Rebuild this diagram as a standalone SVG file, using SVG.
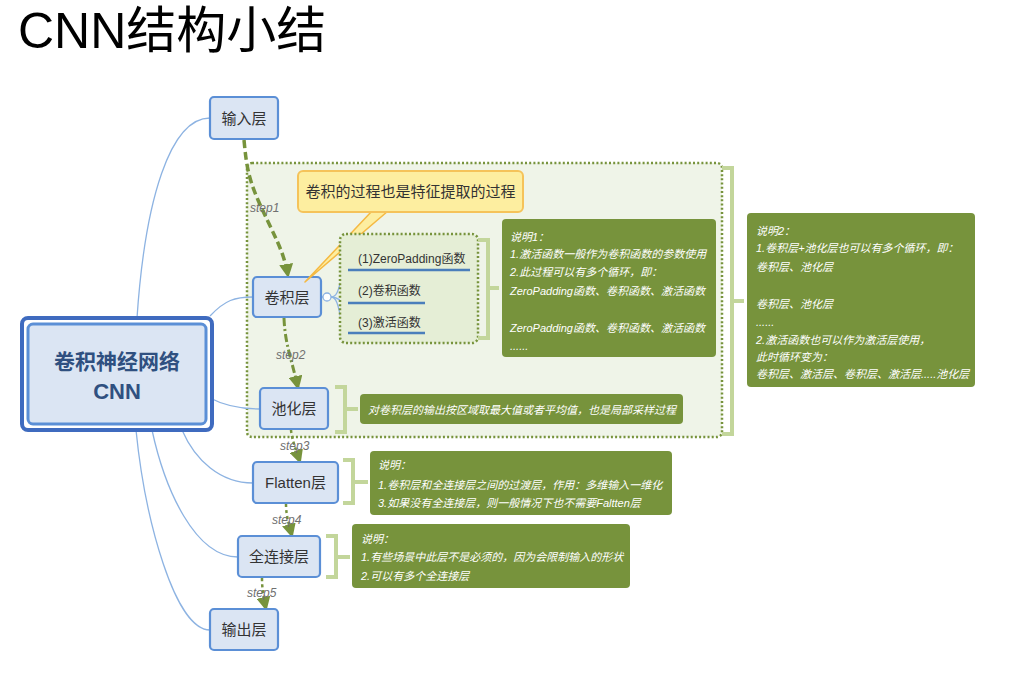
<svg xmlns="http://www.w3.org/2000/svg" width="1016" height="677" viewBox="0 0 1016 677">
<defs>
<style>
.t{font-family:"Liberation Sans","Noto Sans CJK SC",sans-serif;}
.node rect{fill:#dbe5f3;stroke:#5b8fd6;stroke-width:2.2;}
.nt{font-size:15px;fill:#333;text-anchor:middle;}
.gbox{fill:#77933c;}
.gt{font-size:11px;fill:#fff;font-style:italic;}
.br{fill:none;stroke:#c3d69b;stroke-width:4;}
.bl{fill:none;stroke:#8db3e2;stroke-width:1.3;}
.step{fill:none;stroke:#77933c;}
.sl{font-size:12px;fill:#707070;font-style:italic;}
.dot{stroke:#77933c;stroke-width:2.5;stroke-dasharray:2 2.2;}
</style>
<marker id="ah" markerUnits="userSpaceOnUse" markerWidth="14" markerHeight="14" viewBox="0 0 14 14" refX="12" refY="7" orient="auto">
<path d="M0,0 L14,7 L0,14 Z" fill="#77933c"/>
</marker>
</defs>
<rect width="1016" height="677" fill="#fff"/>
<text class="t" x="18" y="48" font-size="50" fill="#000">CNN结构小结</text>

<!-- containers -->
<g id="group-container">
<rect x="247" y="163" width="475" height="274" rx="5" fill="#eff4e8" class="dot"/>
<path class="br" d="M722,168 H732 V434 H722 M732,301 H744"/>
</g>

<!-- connectors -->
<g id="connectors">
<path class="bl" d="M137,318 C145,200 170,118 210,118"/>
<path class="bl" d="M210,316 C225,300 235,297 253,297"/>
<path class="bl" d="M210,398 C225,406 240,409 260,409"/>
<path class="bl" d="M182,430 C195,460 220,483 253,483"/>
<path class="bl" d="M152,430 C165,490 195,557 238,557"/>
<path class="bl" d="M136,430 C145,520 175,630 210,630"/>
<path class="bl" d="M321,297 H323"/>
<path class="bl" d="M331,297 C342,297 338,270 350,270"/>
<path class="bl" d="M331,297 C340,297 340,303 350,303"/>
<path class="bl" d="M331,297 C342,297 338,333 350,333"/>
<circle cx="327" cy="297" r="4" fill="#fff" stroke="#8db3e2" stroke-width="1.3"/>
<path class="step" stroke-width="3.5" stroke-dasharray="8 4" d="M244,140 C246,160 247,175 258,200 C272,232 284,250 288,276" marker-end="url(#ah)"/>
<path class="step" stroke-width="3" stroke-dasharray="8 3 2 3" d="M284,318 C285,345 292,360 298,388" marker-end="url(#ah)"/>
<path class="step" stroke-width="2.5" stroke-dasharray="3 3" d="M291,430 C292,440 296,450 300,462" marker-end="url(#ah)"/>
<path class="step" stroke-width="2.5" stroke-dasharray="3 3" d="M286,504 C286,515 289,525 292,536" marker-end="url(#ah)"/>
<path class="step" stroke-width="2.5" stroke-dasharray="3 3" d="M262,578 C262,590 264,600 266,609" marker-end="url(#ah)"/>
<text class="t sl" x="250" y="212">step1</text>
<text class="t sl" x="276" y="359">step2</text>
<text class="t sl" x="280" y="450">step3</text>
<text class="t sl" x="272" y="524">step4</text>
<text class="t sl" x="247" y="597">step5</text>
</g>

<!-- root -->
<g id="root">
<rect x="22" y="318" width="190" height="112" rx="6" fill="#fff" stroke="#3f6bbf" stroke-width="4"/>
<rect x="28" y="324" width="178" height="100" rx="5" fill="#dbe5f3" stroke="#5b8fd6" stroke-width="3"/>
<text class="t" x="117" y="369" font-size="21" font-weight="bold" fill="#2f5080" text-anchor="middle">卷积神经网络</text>
<text class="t" x="117" y="399" font-size="22" font-weight="bold" fill="#2f5080" text-anchor="middle">CNN</text>
</g>

<g id="n-input" class="node"><rect x="210" y="97" width="68" height="42" rx="4"/><text class="t nt" x="244" y="124">输入层</text></g>
<g id="n-conv" class="node"><rect x="253" y="277" width="68" height="40" rx="4"/><text class="t nt" x="287" y="303">卷积层</text></g>
<g id="n-pool" class="node"><rect x="260" y="388" width="68" height="41" rx="4"/><text class="t nt" x="294" y="414">池化层</text></g>
<g id="n-flatten" class="node"><rect x="253" y="462" width="85" height="41" rx="4"/><text class="t nt" x="295.5" y="488">Flatten层</text></g>
<g id="n-fc" class="node"><rect x="238" y="536" width="82" height="41" rx="4"/><text class="t nt" x="279" y="562">全连接层</text></g>
<g id="n-out" class="node"><rect x="210" y="609" width="68" height="41" rx="4"/><text class="t nt" x="244" y="635">输出层</text></g>

<!-- callout -->
<g id="callout">
<polygon points="372,211 388,211 305,282" fill="#fdeea0" stroke="#f5b942" stroke-width="1.5" stroke-linejoin="round"/>
<rect x="298" y="171" width="225" height="41" rx="5" fill="#fdeea0" stroke="#f5c35a" stroke-width="2"/>
<text class="t" x="410.5" y="197" font-size="15" fill="#333" text-anchor="middle">卷积的过程也是特征提取的过程</text>
</g>

<!-- sub functions -->
<g id="subfuncs">
<rect x="340" y="234" width="138" height="109" rx="6" fill="#e5eed6" class="dot"/>
<path class="br" d="M478,240 H488 V338 H478 M488,288 H499"/>
<text class="t" x="358" y="263" font-size="12" fill="#333">(1)ZeroPadding函数</text>
<path d="M348,270 H470" stroke="#4a7ebb" stroke-width="2.5"/>
<text class="t" x="358" y="295" font-size="12" fill="#333">(2)卷积函数</text>
<path d="M348,303 H425" stroke="#4a7ebb" stroke-width="2.5"/>
<text class="t" x="358" y="327" font-size="12" fill="#333">(3)激活函数</text>
<path d="M348,333 H425" stroke="#4a7ebb" stroke-width="2.5"/>
</g>

<g id="note1">
<rect class="gbox" x="502" y="219" width="214" height="138" rx="4"/>
<text class="t gt" x="510" y="241">说明1：</text>
<text class="t gt" x="510" y="258">1.激活函数一般作为卷积函数的参数使用</text>
<text class="t gt" x="510" y="276">2.此过程可以有多个循环，即：</text>
<text class="t gt" x="510" y="295">ZeroPadding函数、卷积函数、激活函数</text>
<text class="t gt" x="510" y="332">ZeroPadding函数、卷积函数、激活函数</text>
<text class="t gt" x="510" y="350">......</text>
</g>

<g id="note2">
<rect class="gbox" x="747" y="213" width="228" height="174" rx="4"/>
<text class="t gt" x="756" y="235">说明2：</text>
<text class="t gt" x="756" y="252">1.卷积层+池化层也可以有多个循环，即：</text>
<text class="t gt" x="756" y="271">卷积层、池化层</text>
<text class="t gt" x="756" y="308">卷积层、池化层</text>
<text class="t gt" x="756" y="326">......</text>
<text class="t gt" x="756" y="344">2.激活函数也可以作为激活层使用，</text>
<text class="t gt" x="756" y="361">此时循环变为：</text>
<text class="t gt" x="756" y="378">卷积层、激活层、卷积层、激活层.....池化层</text>
</g>

<g id="note-pool">
<path class="br" d="M335,387 H345 V432 H335 M345,409 H358"/>
<rect class="gbox" x="360" y="394" width="323" height="30" rx="4"/>
<text class="t gt" x="368" y="414">对卷积层的输出按区域取最大值或者平均值，也是局部采样过程</text>
</g>

<g id="note-flatten">
<path class="br" d="M343,460 H353 V503 H343 M353,482 H368"/>
<rect class="gbox" x="370" y="451" width="302" height="64" rx="4"/>
<text class="t gt" x="378" y="469">说明：</text>
<text class="t gt" x="378" y="489">1.卷积层和全连接层之间的过渡层，作用：多维输入一维化</text>
<text class="t gt" x="378" y="507">3.如果没有全连接层，则一般情况下也不需要Faltten层</text>
</g>

<g id="note-fc">
<path class="br" d="M326,536 H336 V577 H326 M336,557 H350"/>
<rect class="gbox" x="352" y="524" width="278" height="64" rx="4"/>
<text class="t gt" x="361" y="543">说明：</text>
<text class="t gt" x="361" y="561">1.有些场景中此层不是必须的，因为会限制输入的形状</text>
<text class="t gt" x="361" y="580">2.可以有多个全连接层</text>
</g>
</svg>
